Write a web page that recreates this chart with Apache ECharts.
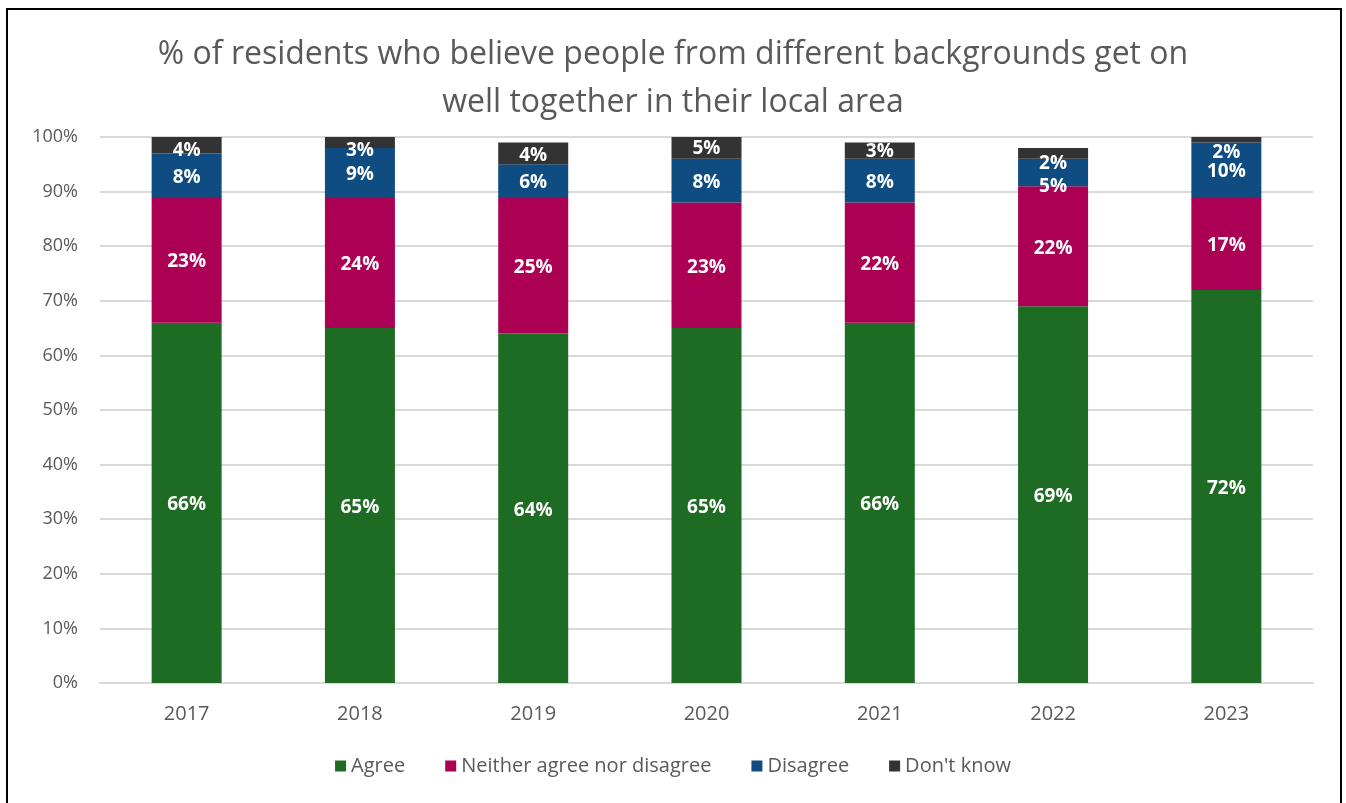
<!DOCTYPE html>
<html>
<head>
<meta charset="utf-8">
<script src="https://cdn.jsdelivr.net/npm/echarts@6/dist/echarts.min.js"></script>
<style>
  html, body { margin: 0; padding: 0; background: #fff; }
  #main { width: 1346px; height: 803px; }
</style>
</head>
<body>
<div id="main"></div>
<script>
// 年份
var years = ['2017', '2018', '2019', '2020', '2021', '2022', '2023'];
// 各项百分比
var agree = [66, 65, 64, 65, 66, 69, 72];
var neither = [23, 24, 25, 23, 22, 22, 17];
var disagree = [8, 9, 6, 8, 8, 5, 10];
var dontKnow = [4, 3, 4, 5, 3, 2, 2];
var yTicks = [0, 10, 20, 30, 40, 50, 60, 70, 80, 90, 100];

var font = '"Open Sans", "Noto Sans", sans-serif';

// 标签的竖直偏移 (Excel 会把顶部的标签往下挤)
var dkOffsets = [5, 8, 0, 1, 1, 10, 13];
var disOffsets = [0, 0, 0, 0, 0, 14, 2];

var myChart = echarts.init(document.getElementById('main'));

function makeSeries(name, data, color, offsets) {
    return {
        name: name,
        type: 'bar',
        stack: 'total',
        barWidth: 70,
        data: data.map(function (v, i) {
            if (!offsets || !offsets[i]) return v;
            return { value: v, label: { offset: [0, offsets[i]] } };
        }),
        itemStyle: { color: color },
        label: {
            show: true,
            position: 'inside',
            offset: [0, 2],
            formatter: '{c}%',
            color: '#fff',
            fontWeight: 'bold',
            fontSize: 19,
            fontFamily: font
        }
    };
}

var option = {
    animation: false,
    title: {
        text: '% of residents who believe people from different backgrounds get on\nwell together in their local area',
        left: 'center',
        top: 26,
        textStyle: {
            fontFamily: font,
            fontWeight: 'normal',
            fontSize: 32,
            color: '#595959',
            lineHeight: 48
        }
    },
    graphic: [{
        type: 'rect',
        shape: { x: 7, y: 9, width: 1334, height: 800 },
        style: { fill: 'none', stroke: '#000', lineWidth: 2 },
        silent: true
    }],
    legend: {
        bottom: 22,
        left: 'center',
        itemWidth: 11,
        itemHeight: 11,
        itemGap: 40,
        icon: 'rect',
        textStyle: { fontFamily: font, fontSize: 20, color: '#595959' },
        data: ['Agree', 'Neither agree nor disagree', 'Disagree', "Don't know"]
    },
    grid: { left: 100, right: 33, top: 137, bottom: 120 },
    xAxis: {
        type: 'category',
        data: years,
        axisTick: { show: false },
        axisLine: { lineStyle: { color: '#d9d9d9', width: 2 } },
        axisLabel: { fontFamily: font, fontSize: 20, color: '#595959', margin: 21 }
    },
    yAxis: {
        type: 'value',
        min: yTicks[0],
        max: yTicks[yTicks.length - 1],
        interval: 10,
        axisLine: { show: false },
        axisTick: { show: false },
        splitLine: { lineStyle: { color: '#d9d9d9', width: 2 } },
        axisLabel: { fontFamily: font, fontSize: 18, color: '#595959', margin: 22, formatter: '{value}%' }
    },
    series: [
        makeSeries('Agree', agree, '#1e6b24'),
        makeSeries('Neither agree nor disagree', neither, '#ac0055'),
        makeSeries('Disagree', disagree, '#0f4c81', disOffsets),
        makeSeries("Don't know", dontKnow, '#333333', dkOffsets)
    ]
};

myChart.setOption(option);
</script>
</body>
</html>
